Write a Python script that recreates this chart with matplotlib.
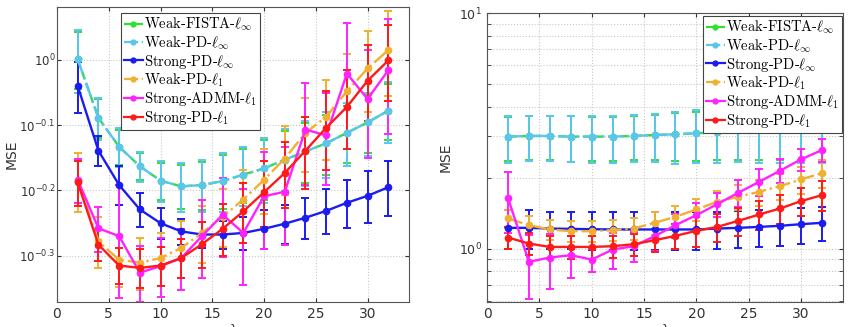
import numpy as np
import matplotlib
matplotlib.use("Agg")
import matplotlib.pyplot as plt
from matplotlib.ticker import FixedLocator, NullFormatter, LogLocator
from matplotlib.lines import Line2D

plt.rcParams['mathtext.fontset'] = 'cm'
plt.rcParams['font.family'] = ['DejaVu Sans']

lam = [2, 4, 6, 8, 10, 12, 14, 16, 18, 20, 22, 24, 26, 28, 30, 32]
labels = ['Weak-FISTA-$\\ell_\\infty$', 'Weak-PD-$\\ell_\\infty$', 'Strong-PD-$\\ell_\\infty$',
          'Weak-PD-$\\ell_1$', 'Strong-ADMM-$\\ell_1$', 'Strong-PD-$\\ell_1$']

# ---- left panel ----
L_weak_fista_inf = [1.002, 0.815, 0.736, 0.687, 0.653, 0.640, 0.643, 0.652, 0.667, 0.682, 0.703, 0.724, 0.745, 0.773, 0.802, 0.836]
L_weak_fista_inf_err = [0.100, 0.055, 0.046, 0.033, 0.043, 0.050, 0.054, 0.062, 0.063, 0.071, 0.074, 0.076, 0.078, 0.077, 0.081, 0.081]
L_weak_pd_inf = [1.002, 0.815, 0.736, 0.687, 0.653, 0.640, 0.643, 0.652, 0.667, 0.682, 0.703, 0.724, 0.745, 0.773, 0.802, 0.836]
L_weak_pd_inf_err = [0.111, 0.060, 0.051, 0.036, 0.047, 0.055, 0.059, 0.068, 0.069, 0.078, 0.081, 0.083, 0.086, 0.085, 0.089, 0.089]
L_strong_pd_inf = [0.912, 0.726, 0.643, 0.590, 0.562, 0.546, 0.540, 0.540, 0.543, 0.551, 0.561, 0.573, 0.587, 0.604, 0.619, 0.638]
L_strong_pd_inf_err = [0.082, 0.038, 0.044, 0.035, 0.030, 0.025, 0.025, 0.027, 0.031, 0.037, 0.039, 0.041, 0.046, 0.051, 0.057, 0.062]
L_weak_pd_1 = [0.652, 0.527, 0.494, 0.489, 0.497, 0.515, 0.543, 0.575, 0.611, 0.655, 0.706, 0.773, 0.818, 0.895, 0.970, 1.035]
L_weak_pd_1_err = [0.068, 0.048, 0.045, 0.045, 0.046, 0.052, 0.054, 0.058, 0.067, 0.075, 0.085, 0.100, 0.115, 0.125, 0.139, 0.155]
L_strong_admm_1 = [0.655, 0.552, 0.537, 0.472, 0.483, 0.497, 0.537, 0.579, 0.543, 0.618, 0.628, 0.782, 0.766, 0.953, 0.871, 0.964]
L_strong_admm_1_err = [0.051, 0.044, 0.105, 0.046, 0.050, 0.053, 0.074, 0.081, 0.091, 0.104, 0.107, 0.139, 0.123, 0.187, 0.163, 0.193]
L_strong_pd_1 = [0.649, 0.521, 0.484, 0.480, 0.484, 0.497, 0.522, 0.551, 0.586, 0.627, 0.671, 0.726, 0.787, 0.847, 0.929, 0.998]
L_strong_pd_1_err = [0.051, 0.030, 0.031, 0.033, 0.033, 0.034, 0.042, 0.051, 0.061, 0.072, 0.077, 0.092, 0.109, 0.117, 0.124, 0.134]

# ---- right panel ----
R_weak_fista_inf = [2.987, 3.006, 3.006, 2.987, 2.987, 2.987, 3.006, 3.035, 3.055, 3.086, 3.116, 3.188, 3.241, 3.273, 3.294, 3.316]
R_weak_fista_inf_err = [0.64, 0.64, 0.63, 0.66, 0.64, 0.64, 0.64, 0.66, 0.70, 0.73, 0.75, 0.80, 0.87, 0.90, 0.92, 0.94]
R_weak_pd_inf = [2.987, 3.006, 3.006, 2.987, 2.987, 2.987, 3.006, 3.035, 3.055, 3.086, 3.116, 3.188, 3.241, 3.273, 3.294, 3.316]
R_weak_pd_inf_err = [0.68, 0.65, 0.66, 0.66, 0.68, 0.68, 0.68, 0.70, 0.76, 0.78, 0.80, 0.85, 0.93, 0.96, 0.98, 1.00]
R_strong_pd_inf = [1.224, 1.224, 1.216, 1.212, 1.208, 1.205, 1.205, 1.205, 1.205, 1.205, 1.216, 1.224, 1.236, 1.249, 1.269, 1.286]
R_strong_pd_inf_err = [0.23, 0.23, 0.22, 0.22, 0.22, 0.22, 0.22, 0.22, 0.22, 0.22, 0.22, 0.22, 0.22, 0.22, 0.22, 0.21]
R_weak_pd_1 = [1.342, 1.257, 1.205, 1.185, 1.185, 1.197, 1.216, 1.286, 1.364, 1.466, 1.580, 1.659, 1.742, 1.842, 1.966, 2.092]
R_weak_pd_1_err = [0.12, 0.12, 0.12, 0.12, 0.12, 0.12, 0.13, 0.14, 0.15, 0.16, 0.18, 0.20, 0.22, 0.24, 0.26, 0.28]
R_strong_admm_1 = [1.643, 0.878, 0.916, 0.937, 0.898, 0.990, 1.023, 1.128, 1.257, 1.386, 1.544, 1.725, 1.921, 2.141, 2.392, 2.621]
R_strong_admm_1_err = [0.48, 0.265, 0.24, 0.19, 0.10, 0.17, 0.15, 0.15, 0.15, 0.17, 0.18, 0.22, 0.25, 0.25, 0.25, 0.30]
R_strong_pd_1 = [1.114, 1.050, 1.016, 1.016, 1.016, 1.023, 1.043, 1.085, 1.132, 1.189, 1.236, 1.311, 1.395, 1.480, 1.590, 1.686]
R_strong_pd_1_err = [0.12, 0.11, 0.11, 0.11, 0.11, 0.11, 0.11, 0.12, 0.14, 0.17, 0.17, 0.18, 0.20, 0.21, 0.22, 0.24]

colors = ['#2fe02f', '#5ac6ee', '#1c1cf0', '#f0b030', '#ff22ff', '#ff1a1a']
styles = ['--', '-.', '-', '-.', '-', '-']

left_series = [(L_weak_fista_inf, L_weak_fista_inf_err), (L_weak_pd_inf, L_weak_pd_inf_err),
               (L_strong_pd_inf, L_strong_pd_inf_err), (L_weak_pd_1, L_weak_pd_1_err),
               (L_strong_admm_1, L_strong_admm_1_err), (L_strong_pd_1, L_strong_pd_1_err)]
right_series = [(R_weak_fista_inf, R_weak_fista_inf_err), (R_weak_pd_inf, R_weak_pd_inf_err),
                (R_strong_pd_inf, R_strong_pd_inf_err), (R_weak_pd_1, R_weak_pd_1_err),
                (R_strong_admm_1, R_strong_admm_1_err), (R_strong_pd_1, R_strong_pd_1_err)]

W, H = 856, 327
fig = plt.figure(figsize=(W / 100, H / 100), dpi=100)
axL = fig.add_axes([57 / W, (H - 302) / H, (409 - 57) / W, (302 - 7) / H])
axR = fig.add_axes([487 / W, (H - 302) / H, (843 - 487) / W, (302 - 13) / H])

tick_color = '#333333'
grid_kw = dict(color='#c8c8c8', linestyle=':', linewidth=0.8)

for ax, series in ((axL, left_series), (axR, right_series)):
    for (vals, errs), c, ls in zip(series, colors, styles):
        ax.errorbar(lam, vals, yerr=errs, color=c, linestyle=ls, linewidth=1.7,
                    marker='o', markersize=4.5, markerfacecolor=c, markeredgecolor=c,
                    capsize=3.2, capthick=1.4, elinewidth=1.4)
    ax.set_yscale('log')
    ax.set_xlim(0, 34)
    ax.set_xticks([0, 5, 10, 15, 20, 25, 30])
    ax.tick_params(direction='in', colors=tick_color, labelsize=10, length=3,
                   top=True, right=True, which='both')
    for s in ax.spines.values():
        s.set_color('#555555')
        s.set_linewidth(0.8)
    ax.set_xlabel('λ', fontsize=9, color=tick_color, labelpad=2)
    ax.set_axisbelow(True)

# left axis ticks
axL.set_ylim(10 ** -0.371, 10 ** 0.081)
lt = [10 ** -0.3, 10 ** -0.2, 10 ** -0.1, 1.0]
axL.yaxis.set_major_locator(FixedLocator(lt))
axL.yaxis.set_minor_locator(FixedLocator([]))
axL.yaxis.set_minor_formatter(NullFormatter())
axL.set_yticklabels([r'$\mathregular{10^{-0.3}}$', r'$\mathregular{10^{-0.2}}$',
                     r'$\mathregular{10^{-0.1}}$', r'$\mathregular{10^{0}}$'], fontsize=8.5)
axL.tick_params(axis='y', pad=1)
axL.grid(True, which='major', **grid_kw)
axL.set_ylabel('MSE', fontsize=10, color=tick_color)
axL.yaxis.set_label_coords(-0.108, 0.5)

# right axis ticks
axR.set_ylim(0.593, 10.0)
axR.yaxis.set_major_locator(FixedLocator([1.0, 10.0]))
axR.set_yticklabels([r'$\mathregular{10^{0}}$', r'$\mathregular{10^{1}}$'], fontsize=9)
axR.yaxis.set_minor_locator(LogLocator(base=10, subs=np.arange(2, 10)))
axR.yaxis.set_minor_formatter(NullFormatter())
axR.grid(True, which='major', **grid_kw)
axR.grid(True, which='minor', axis='y', **grid_kw)
axR.set_ylabel('MSE', fontsize=10, color=tick_color)
axR.yaxis.set_label_coords(-0.097, 0.5)

handles = [Line2D([], [], color=c, linestyle=ls, linewidth=1.6, marker='o', markersize=3.5)
           for c, ls in zip(colors, styles)]
leg_kw = dict(prop={'family': 'cmr10', 'size': 10.5}, frameon=True, fancybox=False,
              framealpha=1, edgecolor='#444444', borderaxespad=0, handlelength=1.3,
              handletextpad=0.1, labelspacing=0.06, borderpad=0.2)
legL = axL.legend(handles, labels, loc='upper left', bbox_to_anchor=(0.182, 0.98), **leg_kw)
legR = axR.legend(handles, labels, loc='upper right', bbox_to_anchor=(0.997, 0.99), **leg_kw)
for lg in (legL, legR):
    lg.get_frame().set_linewidth(0.8)

fig.savefig('out.png', dpi=100)
